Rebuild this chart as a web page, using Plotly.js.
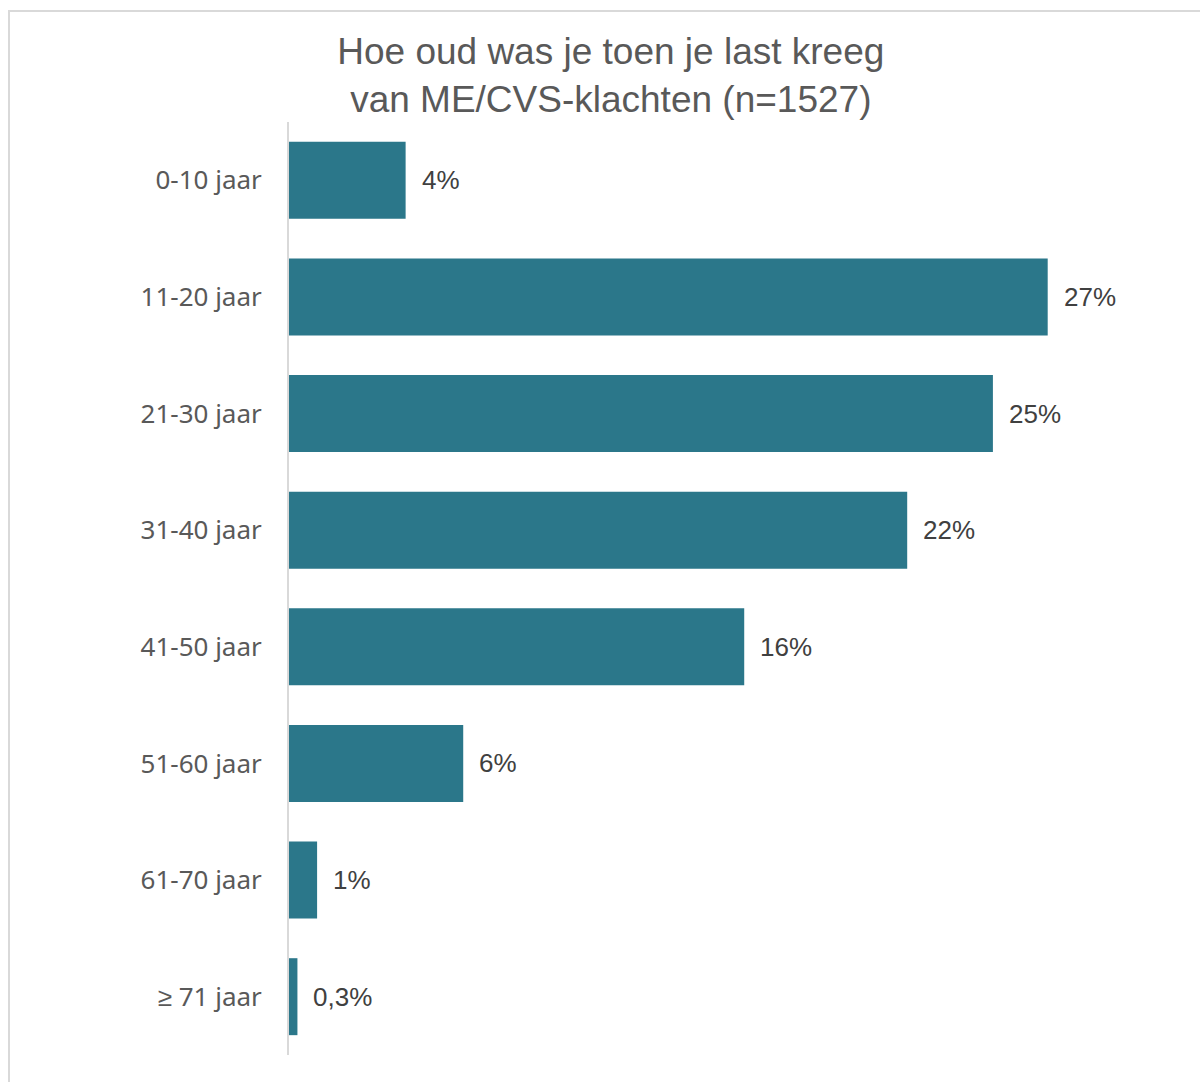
<!DOCTYPE html>
<html>
<head>
<meta charset="utf-8">
<script src="https://cdn.plot.ly/plotly-3.0.1.min.js"></script>
<style>
html,body{margin:0;padding:0;background:#fff;}
#frame{position:absolute;left:8px;top:10px;width:1300px;height:1200px;border:2px solid #D9D9D9;box-sizing:border-box;}
#chart{position:absolute;left:0;top:0;width:1200px;height:1082px;}
</style>
</head>
<body>
<div id="frame"></div>
<div id="chart"></div>
<script>
const categories = ["0-10 jaar","11-20 jaar","21-30 jaar","31-40 jaar","41-50 jaar","51-60 jaar","61-70 jaar","≥ 71 jaar"];
const values = [4.15, 27.0, 25.05, 22.0, 16.2, 6.2, 1.0, 0.3];
const valueLabels = ["4%","27%","25%","22%","16%","6%","1%","0,3%"];
const titleText = "Hoe oud was je toen je last kreeg<br>van ME/CVS-klachten (n=1527)";

const trace = {
  type: "bar",
  orientation: "h",
  x: values,
  y: categories,
  marker: {color: "#2B778A"},
  hoverinfo: "skip"
};

const annotations = values.map((v, i) => ({
  x: v, y: categories[i], xref: "x", yref: "y",
  text: valueLabels[i], showarrow: false,
  xanchor: "left", yanchor: "middle", xshift: 14,
  font: {family: "Liberation Sans, Arial, sans-serif", size: 26, color: "#404040"}
}));

const layout = {
  width: 1200, height: 1082,
  paper_bgcolor: "rgba(0,0,0,0)",
  plot_bgcolor: "rgba(0,0,0,0)",
  margin: {l: 289, r: 68, t: 122, b: 27},
  showlegend: false,
  bargap: 0.34,
  title: {
    text: titleText,
    xref: "container", x: 0.509, xanchor: "center",
    yref: "container", y: 0.941, yanchor: "top",
    font: {family: "Liberation Sans, Arial, sans-serif", size: 37, color: "#595959"}
  },
  xaxis: {
    range: [0, 30],
    visible: false,
    fixedrange: true
  },
  yaxis: {
    autorange: "reversed",
    showline: true, linecolor: "#D9D9D9", linewidth: 2,
    showgrid: false, zeroline: false,
    ticks: "", ticklabelstandoff: 20,
    tickfont: {family: "Noto Sans, Segoe UI, sans-serif", size: 26, color: "#595959"},
    fixedrange: true
  },
  annotations: annotations
};

Plotly.newPlot("chart", [trace], layout, {displayModeBar: false, staticPlot: true});
</script>
</body>
</html>
